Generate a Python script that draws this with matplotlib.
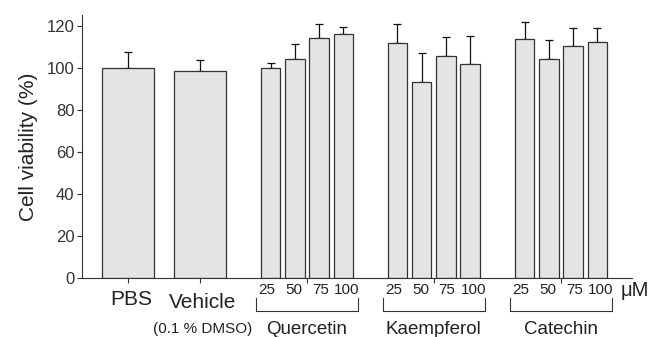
import matplotlib
matplotlib.use("Agg")
import matplotlib.pyplot as plt
import matplotlib.transforms as mtransforms
import numpy as np

# ================= DATA =================
CONTROL_LABELS = ["PBS", "Vehicle"]
CONTROL_MEAN = [100.0, 98.6]
CONTROL_ERR = [7.3, 5.2]

GROUPS = ["Quercetin", "Kaempferol", "Catechin"]
DOSES = ["25", "50", "75", "100"]
GROUP_MEAN = {
    "Quercetin": [99.7, 104.3, 114.0, 115.9],
    "Kaempferol": [111.9, 93.0, 105.7, 101.6],
    "Catechin": [113.5, 104.0, 110.5, 112.1],
}
GROUP_ERR = {
    "Quercetin": [2.7, 7.0, 7.0, 3.3],
    "Kaempferol": [9.1, 13.8, 9.1, 13.6],
    "Catechin": [8.3, 9.3, 8.4, 6.7],
}
Y_TICKS = [0, 20, 40, 60, 80, 100, 120]
# ========================================

# layout (x in axis units, roughly pixels)
W, H = 655, 337
AX_L, AX_R, AX_T, AX_B = 82, 632, 15, 277.7
CTRL_POS = [46, 118]
CTRL_WIDTH = 52
GROUP_START = [188.5, 315.3, 442.5]
STEP = 24.3
DOSE_WIDTH = 19.5

FACE = "#e3e4e5"
EDGE = "#333333"
TXT = "#222222"

plt.rcParams["font.family"] = ["Liberation Sans", "DejaVu Sans"]


def fy(py):
    return 1 - py / H


fig = plt.figure(figsize=(W / 100, H / 100), dpi=100)
ax = fig.add_axes([AX_L / W, fy(AX_B), (AX_R - AX_L) / W, (AX_B - AX_T) / H])

# control bars
ax.bar(CTRL_POS, CONTROL_MEAN, width=CTRL_WIDTH, color=FACE,
       edgecolor=EDGE, linewidth=0.9, zorder=2)
ax.errorbar(CTRL_POS, CONTROL_MEAN,
            yerr=[np.zeros(len(CONTROL_ERR)), CONTROL_ERR],
            fmt="none", ecolor="#111111", elinewidth=0.9, capsize=3,
            capthick=0.9, zorder=1)

group_centers = []
dose_pos_all = []
for g, start in zip(GROUPS, GROUP_START):
    pos = start + STEP * np.arange(len(DOSES))
    dose_pos_all.append(pos)
    group_centers.append(pos.mean())
    ax.bar(pos, GROUP_MEAN[g], width=DOSE_WIDTH, color=FACE,
           edgecolor=EDGE, linewidth=0.9, zorder=2)
    ax.errorbar(pos, GROUP_MEAN[g],
                yerr=[np.zeros(len(DOSES)), GROUP_ERR[g]],
                fmt="none", ecolor="#111111", elinewidth=0.9, capsize=3,
                capthick=0.9, zorder=1)

ax.set_xlim(0, AX_R - AX_L)
ax.set_ylim(0, (AX_B - AX_T) / 2.1)
ax.set_yticks(Y_TICKS)
ax.set_xticks(CTRL_POS + group_centers)
ax.set_xticklabels([])

for s in ["top", "right"]:
    ax.spines[s].set_visible(False)
for s in ["left", "bottom"]:
    ax.spines[s].set_linewidth(0.8)
    ax.spines[s].set_color(EDGE)
ax.tick_params(axis="both", direction="out", length=3.5, width=0.8,
               color=EDGE, labelsize=12, labelcolor="#333333", pad=2)

ax.set_ylabel("Cell viability (%)", fontsize=15, color=TXT)
ax.yaxis.set_label_coords(-0.08, 0.5)

# text below the axis: x in data, y in figure
trans = mtransforms.blended_transform_factory(ax.transData, fig.transFigure)

ax.text(CTRL_POS[0] + 3, fy(305), CONTROL_LABELS[0], transform=trans,
        ha="center", va="baseline", fontsize=15, color=TXT)
ax.text(CTRL_POS[1] + 3, fy(308), CONTROL_LABELS[1], transform=trans,
        ha="center", va="baseline", fontsize=15, color=TXT)
ax.text(CTRL_POS[1] + 3, fy(333), "(0.1 % DMSO)", transform=trans,
        ha="center", va="baseline", fontsize=11, color=TXT)

for g, pos, c in zip(GROUPS, dose_pos_all, group_centers):
    spread = (pos - c) * 1.1 + c
    for d, x in zip(DOSES, spread):
        ax.text(x, fy(294.5), d, transform=trans, ha="center",
                va="baseline", fontsize=11, color=TXT)
    x0, x1 = pos[0] - 14.8, pos[-1] + 15
    ax.plot([x0, x0, x1, x1], [fy(298), fy(310.7), fy(310.7), fy(298)],
            transform=trans, color=EDGE, linewidth=0.8, clip_on=False)
    ax.text(c, fy(334), g, transform=trans, ha="center", va="baseline",
            fontsize=13.5, color=TXT)

ax.text(AX_R - AX_L - 11, fy(296), "\u03bcM", transform=trans,
        ha="left", va="baseline", fontsize=14.5, color=TXT)

fig.savefig("out.png", dpi=100)
